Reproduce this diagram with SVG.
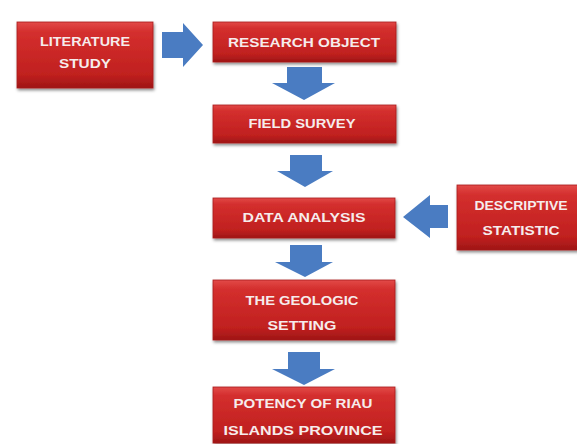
<svg xmlns="http://www.w3.org/2000/svg" width="577" height="444" viewBox="0 0 577 444">
<defs>
<linearGradient id="red" x1="0" y1="0" x2="0" y2="1">
<stop offset="0" stop-color="#e24a48"/>
<stop offset="0.15" stop-color="#d42f2e"/>
<stop offset="0.8" stop-color="#c0201f"/>
<stop offset="1" stop-color="#9e1616"/>
</linearGradient>
<filter id="sh" x="-10%" y="-20%" width="125%" height="150%">
<feDropShadow dx="1" dy="2" stdDeviation="1.8" flood-color="#000" flood-opacity="0.45"/>
</filter>
</defs>
<style>
.box{fill:url(#red);stroke:#a81c1c;stroke-width:0.8;filter:url(#sh)}
.t{font-family:"Liberation Sans",Arial,sans-serif;font-weight:bold;font-size:13px;fill:#f6ecec;text-anchor:middle}
.arr{fill:#4a7cc2}
</style>
<rect width="577" height="444" fill="#ffffff"/>
<g id="connectors">
<path class="arr" d="M162,32 H183 V23 L203,45 L183,67 V58 H162 Z"/>
<path class="arr" d="M287,67 H322 V83 H335 L304,100 L272,83 H287 Z"/>
<path class="arr" d="M290,155 H322 V171 H333 L305,187 L277,171 H290 Z"/>
<path class="arr" d="M290,245 H322 V262 H333 L305,277 L275,262 H290 Z"/>
<path class="arr" d="M288,352 H320 V369 H335 L304,385 L272,369 H288 Z"/>
<path class="arr" d="M448,205 H430 V195 L403,217 L430,238 V228 H448 Z"/>
</g>
<g id="literature-study">
<rect class="box" x="17" y="22" width="136" height="66"/>
<text class="t" x="85" y="46" textLength="90" lengthAdjust="spacingAndGlyphs">LITERATURE</text>
<text class="t" x="85" y="68" textLength="52" lengthAdjust="spacingAndGlyphs">STUDY</text>
</g>
<g id="research-object">
<rect class="box" x="213" y="22" width="183" height="40"/>
<text class="t" x="304" y="47" textLength="152" lengthAdjust="spacingAndGlyphs">RESEARCH OBJECT</text>
</g>
<g id="field-survey">
<rect class="box" x="213" y="105" width="183" height="38"/>
<text class="t" x="302" y="128" textLength="107" lengthAdjust="spacingAndGlyphs">FIELD SURVEY</text>
</g>
<g id="data-analysis">
<rect class="box" x="213" y="198" width="182" height="40"/>
<text class="t" x="304" y="222" textLength="123" lengthAdjust="spacingAndGlyphs">DATA ANALYSIS</text>
</g>
<g id="descriptive-statistic">
<rect class="box" x="457" y="185" width="124" height="65"/>
<text class="t" x="521" y="210" textLength="93" lengthAdjust="spacingAndGlyphs">DESCRIPTIVE</text>
<text class="t" x="521" y="235" textLength="77" lengthAdjust="spacingAndGlyphs">STATISTIC</text>
</g>
<g id="geologic-setting">
<rect class="box" x="213" y="280" width="182" height="60"/>
<text class="t" x="302" y="305" textLength="113" lengthAdjust="spacingAndGlyphs">THE GEOLOGIC</text>
<text class="t" x="302" y="330" textLength="69" lengthAdjust="spacingAndGlyphs">SETTING</text>
</g>
<g id="potency">
<rect class="box" x="213" y="387" width="182" height="56"/>
<text class="t" x="303" y="408" textLength="139" lengthAdjust="spacingAndGlyphs">POTENCY OF RIAU</text>
<text class="t" x="303" y="435" textLength="159" lengthAdjust="spacingAndGlyphs">ISLANDS PROVINCE</text>
</g>
</svg>
